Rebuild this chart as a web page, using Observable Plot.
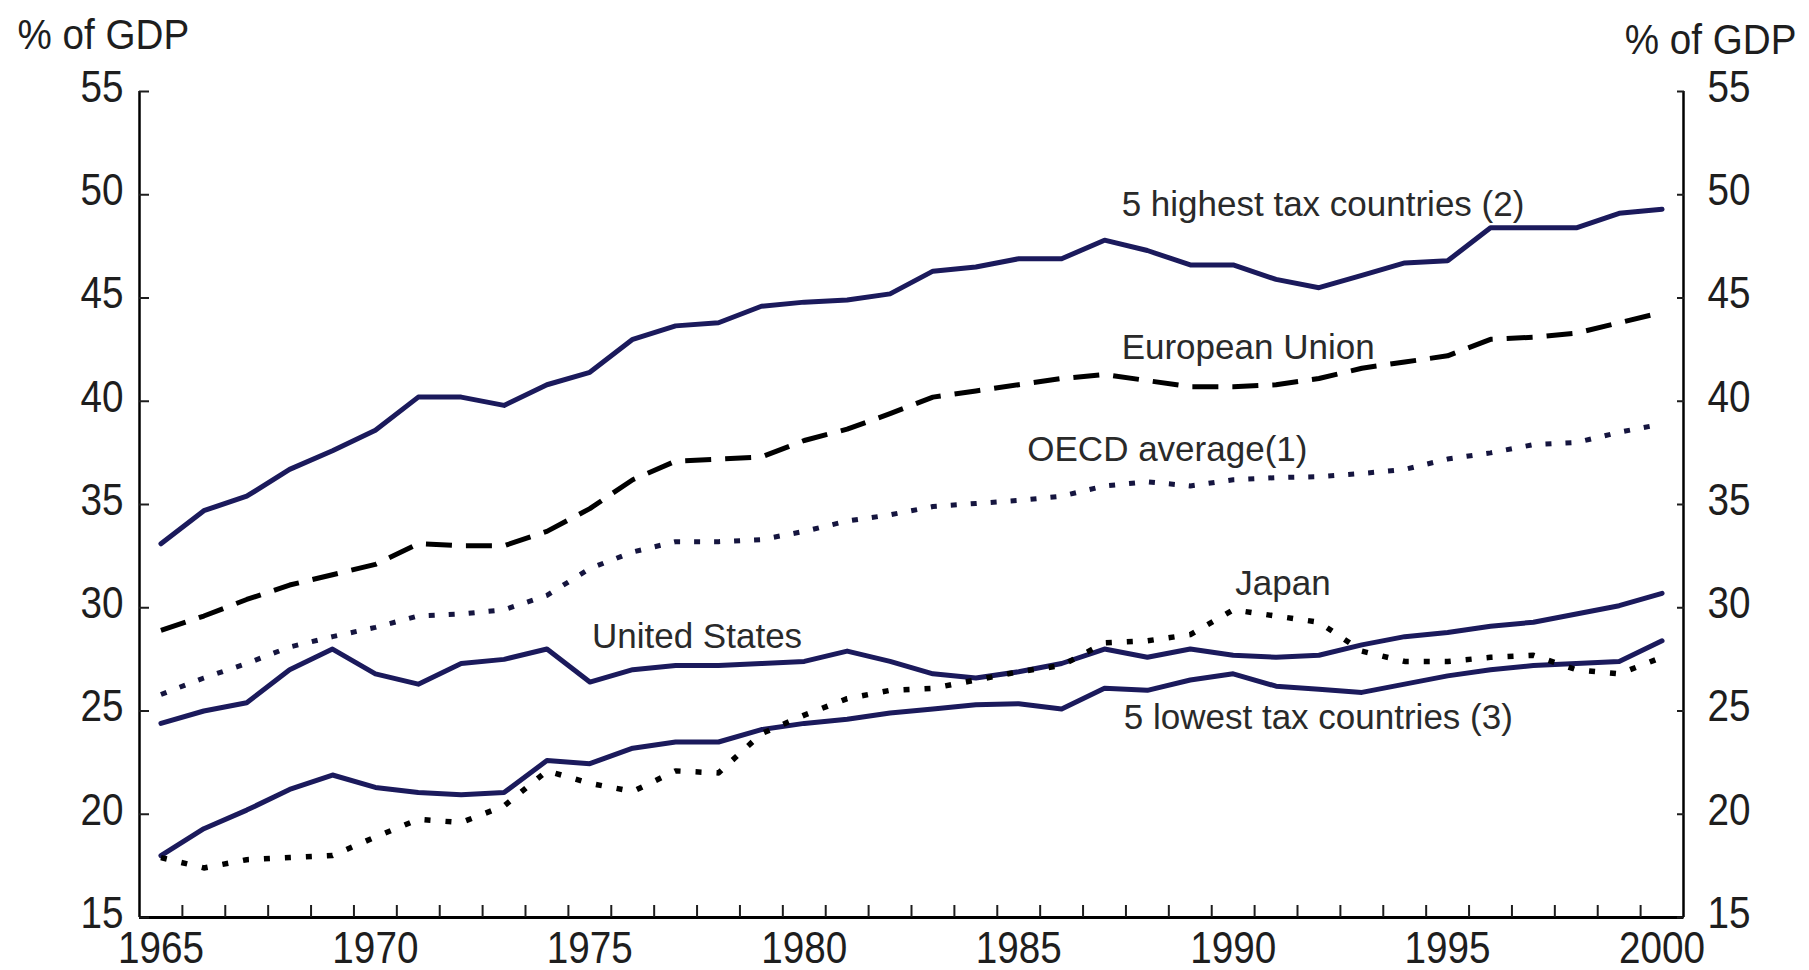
<!DOCTYPE html>
<html>
<head>
<meta charset="utf-8">
<script src="https://cdn.jsdelivr.net/npm/d3@7"></script>
<script src="https://cdn.jsdelivr.net/npm/@observablehq/plot@0.6"></script>
<style>
  html, body { margin: 0; padding: 0; background: #fff; }
</style>
</head>
<body>
<div id="chart"></div>
<script>
// ---- Data ----
const years = [1965,1966,1967,1968,1969,1970,1971,1972,1973,1974,1975,1976,1977,1978,1979,1980,1981,1982,1983,1984,1985,1986,1987,1988,1989,1990,1991,1992,1993,1994,1995,1996,1997,1998,1999,2000];

const highest = [33.1,34.7,35.4,36.7,37.6,38.6,40.2,40.2,39.8,40.8,41.4,43.0,43.65,43.8,44.6,44.8,44.9,45.2,46.3,46.5,46.9,46.9,47.8,47.3,46.6,46.6,45.9,45.5,46.1,46.7,46.8,48.4,48.4,48.4,49.1,49.3];
const eu      = [28.9,29.6,30.4,31.1,31.6,32.1,33.1,33.0,33.0,33.7,34.8,36.2,37.1,37.2,37.3,38.1,38.65,39.4,40.2,40.5,40.8,41.1,41.3,41.0,40.7,40.7,40.8,41.1,41.6,41.9,42.2,43.0,43.1,43.3,43.8,44.3];
const oecd    = [25.8,26.6,27.3,28.1,28.6,29.05,29.6,29.7,29.9,30.6,31.9,32.7,33.2,33.2,33.3,33.7,34.2,34.5,34.9,35.05,35.2,35.4,35.9,36.1,35.9,36.2,36.3,36.35,36.5,36.7,37.2,37.5,37.9,38.0,38.5,38.9];
const us      = [24.4,25.0,25.4,27.0,28.0,26.8,26.3,27.3,27.5,28.0,26.4,27.0,27.2,27.2,27.3,27.4,27.9,27.4,26.8,26.6,26.9,27.3,28.0,27.6,28.0,27.7,27.6,27.7,28.2,28.6,28.8,29.1,29.3,29.7,30.1,30.7];
const japan   = [17.9,17.4,17.8,17.9,18.0,18.9,19.75,19.6,20.4,22.1,21.5,21.1,22.1,22.0,23.9,24.8,25.6,26.0,26.1,26.5,26.9,27.2,28.3,28.4,28.7,29.9,29.6,29.3,27.9,27.4,27.4,27.6,27.7,27.0,26.8,27.6];
const lowest  = [18.0,19.3,20.2,21.2,21.9,21.3,21.05,20.95,21.05,22.6,22.45,23.2,23.5,23.5,24.1,24.4,24.6,24.9,25.1,25.3,25.35,25.1,26.1,26.0,26.5,26.8,26.2,26.05,25.9,26.3,26.7,27.0,27.2,27.3,27.4,28.4];

const yTicks  = [15,20,25,30,35,40,45,50,55];
const xLabels = [1965,1970,1975,1980,1985,1990,1995,2000];
const axisTitle = "% of GDP";

// series labels placed in data units (year, % of GDP)
const labelText  = ["5 highest tax countries (2)", "European Union", "OECD average(1)", "Japan", "United States", "5 lowest tax countries (3)"];
const labelYear  = [1987.4, 1987.4, 1985.2, 1990.05, 1975.05, 1987.45];
const labelValue = [49.5, 42.6, 37.65, 31.15, 28.6, 24.65];

// ---- Build tables ----
const toRows = (vals) => years.map((y, i) => ({year: y, value: vals[i]}));
const labels = labelText.map((t, i) => ({text: t, year: labelYear[i], value: labelValue[i]}));
const xDomain = [years[0] - 0.5, years[years.length - 1] + 0.5];
const yearBounds = years.slice(0, -1).map(y => y + 0.5);

const navy = "#1b1a5c";
const ink = "#1e1e1e";
const tickFont = "'Liberation Sans', Arial, sans-serif";
const labelFont = "'Liberation Sans', Arial, sans-serif";

const chart = Plot.plot({
  width: 1809,
  height: 970,
  marginLeft: 139,
  marginRight: 126,
  marginTop: 91,
  marginBottom: 53,
  style: {background: "#fff", color: ink, fontFamily: tickFont, fontSize: "45px", overflow: "visible"},
  x: {domain: xDomain},
  y: {domain: [yTicks[0], yTicks[yTicks.length - 1]]},
  marks: [
    // frame: left, right, bottom
    Plot.ruleX(xDomain, {stroke: "#000", strokeWidth: 2.5}),
    Plot.ruleY([yTicks[0]], {stroke: "#000", strokeWidth: 3}),
    // y axes (inward ticks)
    Plot.axisY({anchor: "left", ticks: yTicks, tickSize: -10, tickPadding: 26, strokeWidth: 2, fontSize: 45, fontFamily: tickFont, fill: ink, label: null}),
    Plot.axisY({anchor: "right", ticks: yTicks, tickSize: -7, tickPadding: 31, strokeWidth: 2, fontSize: 45, fontFamily: tickFont, fill: ink, label: null}),
    // x axis: labels at years, ticks at year boundaries
    Plot.axisX({ticks: xLabels, tickSize: 0, tickPadding: 14, tickFormat: d => String(d), fontSize: 45, fontFamily: tickFont, fill: ink, label: null}),
    Plot.axisX({ticks: yearBounds, tickSize: -12, strokeWidth: 2, text: null, label: null}),
    // series
    Plot.line(toRows(highest), {x: "year", y: "value", stroke: navy, strokeWidth: 5}),
    Plot.line(toRows(eu), {x: "year", y: "value", stroke: "#000", strokeWidth: 5, strokeDasharray: "26,14", strokeLinecap: "butt"}),
    Plot.line(toRows(oecd), {x: "year", y: "value", stroke: "#15153f", strokeWidth: 5, strokeDasharray: "6,14", strokeLinecap: "butt"}),
    Plot.line(toRows(us), {x: "year", y: "value", stroke: navy, strokeWidth: 5}),
    Plot.line(toRows(lowest), {x: "year", y: "value", stroke: navy, strokeWidth: 5}),
    Plot.line(toRows(japan), {x: "year", y: "value", stroke: "#000", strokeWidth: 5.5, strokeDasharray: "6,15", strokeLinecap: "butt"}),
    // series labels
    Plot.text(labels, {x: "year", y: "value", text: "text", textAnchor: "start", lineAnchor: "middle", fontSize: 35, fontFamily: labelFont, fill: "#2a2a2a"}),
    // axis titles
    Plot.text([axisTitle], {frameAnchor: "top-left", textAnchor: "start", lineAnchor: "bottom", dx: -122, dy: -43, fontSize: 42, fontFamily: labelFont, fill: ink}),
    Plot.text([axisTitle], {frameAnchor: "top-right", textAnchor: "end", lineAnchor: "bottom", dx: 113, dy: -38, fontSize: 42, fontFamily: labelFont, fill: ink})
  ]
});

// narrow the tick-label glyphs horizontally, like the condensed face of the original
d3.select(chart)
  .selectAll("g[aria-label='x-axis tick label'] text")
  .each(function () {
    const t = this.getAttribute("transform") || "";
    this.setAttribute("transform", t + " scale(0.86,1)");
  });
d3.select(chart)
  .selectAll("g[aria-label='y-axis tick label'] text")
  .each(function () {
    const t = this.getAttribute("transform") || "";
    this.setAttribute("transform", t + " translate(0,-4) scale(0.86,1)");
  });
d3.select(chart)
  .selectAll("g[aria-label='text'] text")
  .filter(function () { return this.textContent === axisTitle; })
  .each(function () {
    const t = this.getAttribute("transform") || "";
    this.setAttribute("transform", t + " scale(0.92,1)");
  });

document.getElementById("chart").appendChild(chart);
</script>
</body>
</html>
